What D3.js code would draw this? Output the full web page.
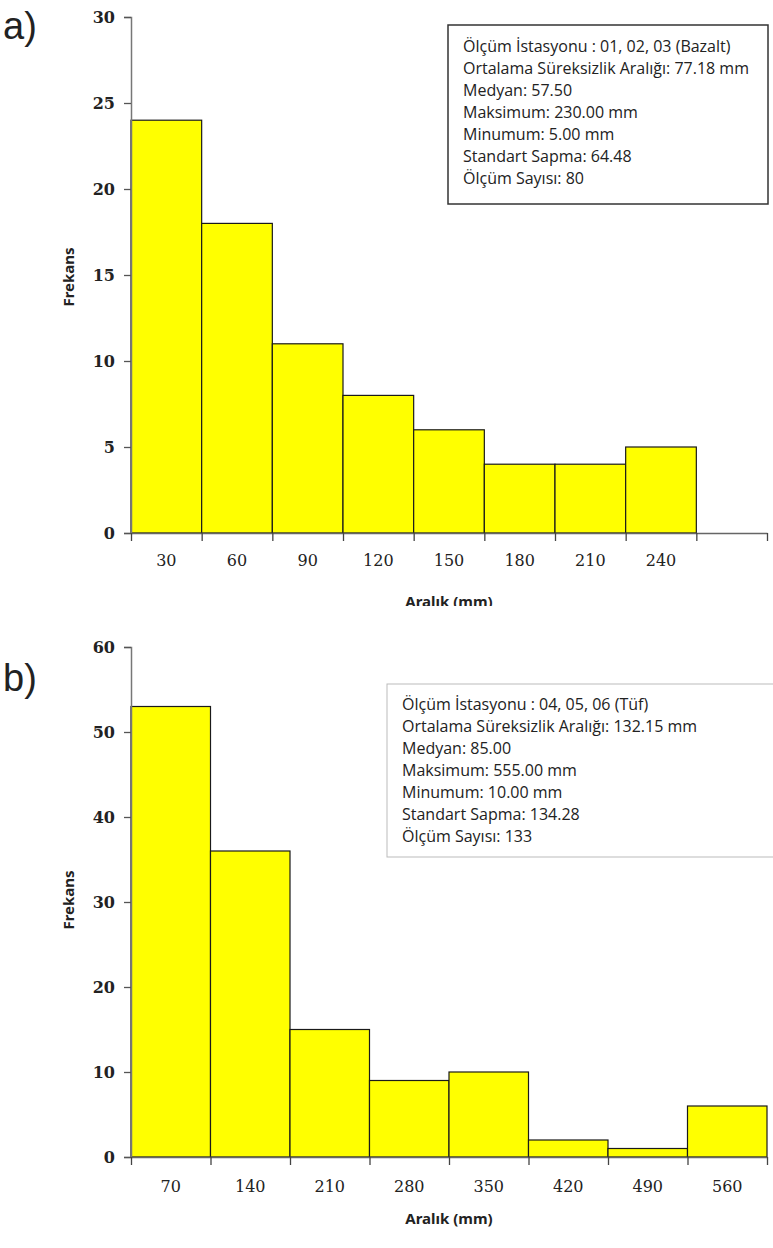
<!DOCTYPE html>
<html>
<head>
<meta charset="utf-8">
<script src="https://cdn.jsdelivr.net/npm/d3@7"></script>
<style>
  body { margin: 0; background: #fff; }
  svg text { fill: #222; }
</style>
</head>
<body>
<script>
// panel a) - bazalt
var binsA = ["30", "60", "90", "120", "150", "180", "210", "240", ""];
var countsA = [24, 18, 11, 8, 6, 4, 4, 5, 0];
var yTicksA = [0, 5, 10, 15, 20, 25, 30];
var statsA = [
  "Ölçüm İstasyonu  : 01, 02, 03 (Bazalt)",
  "Ortalama Süreksizlik Aralığı: 77.18 mm",
  "Medyan: 57.50",
  "Maksimum:  230.00 mm",
  "Minumum: 5.00 mm",
  "Standart Sapma: 64.48",
  "Ölçüm Sayısı:  80"
];

// panel b) - tüf
var binsB = ["70", "140", "210", "280", "350", "420", "490", "560"];
var countsB = [53, 36, 15, 9, 10, 2, 1, 6];
var yTicksB = [0, 10, 20, 30, 40, 50, 60];
var statsB = [
  "Ölçüm İstasyonu  : 04, 05, 06 (Tüf)",
  "Ortalama Süreksizlik Aralığı: 132.15 mm",
  "Medyan: 85.00",
  "Maksimum:  555.00 mm",
  "Minumum: 10.00 mm",
  "Standart Sapma: 134.28",
  "Ölçüm Sayısı:  133"
];

var W = 773, H = 1248;
var svg = d3.select("body").append("svg")
  .attr("width", W).attr("height", H);

svg.append("defs").append("clipPath").attr("id", "clipA")
  .append("rect").attr("x", 0).attr("y", 0).attr("width", W).attr("height", 606);

function drawPanel(cfg) {
  var g = svg.append("g");

  var x = d3.scaleBand().domain(cfg.bins).range([cfg.left, cfg.right]).padding(0);
  var xi = d3.scaleLinear().domain([0, cfg.bins.length]).range([cfg.left, cfg.right]);
  var y = d3.scaleLinear().domain([0, cfg.yMax]).range([cfg.bottom, cfg.top]);

  // bars
  g.selectAll("rect.bar")
    .data(cfg.bins.map(function(b, i) { return {bin: b, v: cfg.counts[i]}; })
      .filter(function(d) { return d.v > 0; }))
    .enter().append("rect")
    .attr("class", "bar")
    .attr("x", function(d) { return x(d.bin); })
    .attr("width", x.bandwidth())
    .attr("y", function(d) { return y(d.v); })
    .attr("height", function(d) { return cfg.bottom - y(d.v); })
    .attr("fill", "#ffff00")
    .attr("stroke", "#1a1a1a")
    .attr("stroke-width", 1.2);

  // y axis
  var ya = g.append("g")
    .attr("transform", "translate(" + cfg.left + ",0)")
    .call(d3.axisLeft(y).tickValues(cfg.yTicks).tickSize(7).tickSizeOuter(7).tickPadding(9));
  ya.select(".domain").attr("stroke", "#777").attr("stroke-width", 1.5);
  ya.selectAll(".tick line").attr("stroke", "#555").attr("stroke-width", 1.3);
  ya.selectAll(".tick text")
    .attr("font-family", "DejaVu Serif")
    .attr("font-size", 16).attr("font-weight", "bold").attr("fill", "#333");

  // x axis: boundary ticks
  var xb = g.append("g")
    .attr("transform", "translate(0," + cfg.bottom + ")")
    .call(d3.axisBottom(xi).tickValues(d3.range(cfg.bins.length + 1))
      .tickSize(8).tickSizeOuter(0).tickFormat(""));
  xb.select(".domain").attr("stroke", "#666").attr("stroke-width", 1.5);
  xb.selectAll(".tick line").attr("stroke", "#444").attr("stroke-width", 1.3);

  // x axis: labels at bin centres
  var xl = g.append("g")
    .attr("transform", "translate(0," + cfg.bottom + ")")
    .call(d3.axisBottom(x).tickSize(0).tickPadding(cfg.labelPad));
  xl.select(".domain").remove();
  xl.selectAll(".tick text")
    .attr("font-family", "DejaVu Serif")
    .attr("font-size", 16).attr("fill", "#2a2a2a");

  // axis titles
  g.append("text")
    .attr("transform", "translate(" + cfg.yTitleX + "," + cfg.yTitleY + ") rotate(-90)")
    .attr("text-anchor", "middle")
    .attr("dominant-baseline", "middle")
    .attr("font-family", "Noto Sans").attr("font-weight", "bold").attr("font-size", 15)
    .text("Frekans");

  var xt = g.append("text")
    .attr("x", cfg.xTitleX).attr("y", cfg.xTitleY)
    .attr("text-anchor", "middle")
    .attr("font-family", "Noto Sans").attr("font-weight", "bold").attr("font-size", 15)
    .text("Aralık (mm)");
  if (cfg.clip) xt.attr("clip-path", "url(#" + cfg.clip + ")");

  // panel letter
  g.append("text")
    .attr("x", 3).attr("y", cfg.letterY)
    .attr("font-family", "Liberation Sans").attr("font-size", 38)
    .attr("fill", "#111")
    .text(cfg.letter);

  // stats box
  var lg = g.append("g");
  lg.append("rect")
    .attr("x", cfg.box[0]).attr("y", cfg.box[1])
    .attr("width", cfg.box[2]).attr("height", cfg.box[3])
    .attr("fill", "#fff")
    .attr("stroke", cfg.boxStroke).attr("stroke-width", cfg.boxStrokeW);
  lg.selectAll("text.stat")
    .data(cfg.stats)
    .enter().append("text")
    .attr("class", "stat")
    .attr("x", cfg.box[0] + cfg.textInset)
    .attr("y", function(d, i) { return cfg.firstLine + i * 22; })
    .attr("dominant-baseline", "middle")
    .attr("font-family", "Open Sans").attr("font-size", 16)
    .attr("fill", "#333")
    .text(function(d) { return d; });
}

drawPanel({
  letter: "a)", letterY: 39,
  bins: binsA, counts: countsA, yTicks: yTicksA, yMax: 30,
  left: 131, right: 767, top: 17, bottom: 533,
  labelPad: 22,
  yTitleX: 70, yTitleY: 277,
  xTitleX: 449, xTitleY: 607, clip: "clipA",
  stats: statsA,
  box: [448, 25, 320, 179], boxStroke: "#333", boxStrokeW: 1.5,
  textInset: 15, firstLine: 48
});

drawPanel({
  letter: "b)", letterY: 691,
  bins: binsB, counts: countsB, yTicks: yTicksB, yMax: 60,
  left: 131, right: 767, top: 647, bottom: 1157,
  labelPad: 24,
  yTitleX: 70, yTitleY: 900,
  xTitleX: 449, xTitleY: 1224,
  stats: statsB,
  box: [387, 684, 400, 173], boxStroke: "#bbb", boxStrokeW: 1,
  textInset: 15, firstLine: 706
});
</script>
</body>
</html>
